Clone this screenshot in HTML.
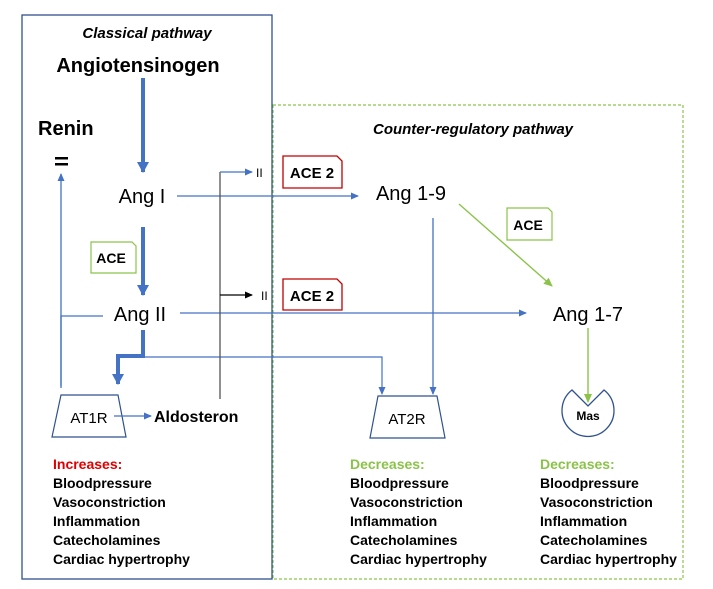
<!DOCTYPE html>
<html><head><style>body{margin:0;background:#fff}svg{display:block}text{font-family:"Liberation Sans",sans-serif}</style></head><body>
<svg width="713" height="589" viewBox="0 0 713 589" xmlns="http://www.w3.org/2000/svg">
<defs>
<marker id="b" markerWidth="8" markerHeight="8" refX="7" refY="4" orient="auto" markerUnits="userSpaceOnUse"><path d="M0,0.5 L8,4 L0,7.5z" fill="#4472c4"/></marker>
<marker id="bt" markerWidth="12" markerHeight="12" refX="10" refY="6" orient="auto" markerUnits="userSpaceOnUse"><path d="M0,0 L11,6 L0,12z" fill="#4472c4"/></marker>
<marker id="k" markerWidth="8" markerHeight="8" refX="7" refY="4" orient="auto" markerUnits="userSpaceOnUse"><path d="M0,0.5 L8,4 L0,7.5z" fill="#000"/></marker>
<marker id="g" markerWidth="9" markerHeight="9" refX="8" refY="4.5" orient="auto" markerUnits="userSpaceOnUse"><path d="M0,0.5 L9,4.5 L0,8.5z" fill="#8bc34a"/></marker>
</defs>
<rect x="273" y="105" width="410" height="474" fill="none" stroke="#8bc34a" stroke-dasharray="3,2" stroke-width="1.2"/>
<rect x="22" y="15" width="250" height="564" fill="none" stroke="#2f528f" stroke-width="1.3"/>
<text x="147" y="38" text-anchor="middle" font-size="15" font-style="italic" font-weight="bold">Classical pathway</text>
<text x="473" y="134" text-anchor="middle" font-size="15" font-style="italic" font-weight="bold">Counter-regulatory pathway</text>
<text x="138" y="72" text-anchor="middle" font-size="20" font-weight="bold">Angiotensinogen</text>
<text x="38" y="135" font-size="20" font-weight="bold">Renin</text>
<rect x="55" y="157" width="13" height="2.5"/><rect x="55" y="163" width="13" height="2.5"/>
<line x1="143" y1="78" x2="143" y2="172" stroke="#4472c4" stroke-width="4" marker-end="url(#bt)"/>
<text x="142" y="203" text-anchor="middle" font-size="20">Ang I</text>
<line x1="177" y1="196" x2="358" y2="196" stroke="#4472c4" stroke-width="1.3" marker-end="url(#b)"/>
<text x="411" y="200" text-anchor="middle" font-size="20">Ang 1-9</text>
<path d="M91,242 H132 L136,246 V273 H91Z" fill="#fff" stroke="#8bc34a" stroke-width="1.2"/>
<text x="111" y="263" text-anchor="middle" font-size="14" font-weight="bold">ACE</text>
<line x1="143" y1="227" x2="143" y2="295" stroke="#4472c4" stroke-width="4" marker-end="url(#bt)"/>
<text x="140" y="321" text-anchor="middle" font-size="20">Ang II</text>
<line x1="180" y1="313" x2="526" y2="313" stroke="#4472c4" stroke-width="1.3" marker-end="url(#b)"/>
<polyline points="103,316 61,316 61,386" fill="none" stroke="#4472c4" stroke-width="1.3"/>
<line x1="61" y1="388" x2="61" y2="174" stroke="#4472c4" stroke-width="1.3" marker-end="url(#b)"/>
<polyline points="143,330 143,356 118,356 118,384" fill="none" stroke="#4472c4" stroke-width="4" marker-end="url(#bt)"/>
<polyline points="143,357 382,357 382,394" fill="none" stroke="#4472c4" stroke-width="1.2" marker-end="url(#b)"/>
<line x1="433" y1="218" x2="433" y2="394" stroke="#4472c4" stroke-width="1.3" marker-end="url(#b)"/>
<line x1="220" y1="172" x2="220" y2="399" stroke="#555" stroke-width="1.3"/>
<line x1="220" y1="172" x2="252" y2="172" stroke="#4472c4" stroke-width="1.3" marker-end="url(#b)"/>
<line x1="220" y1="295" x2="252" y2="295" stroke="#000" stroke-width="1.3" marker-end="url(#k)"/>
<text x="256" y="177" font-size="12">II</text><text x="261" y="300" font-size="12">II</text>
<path d="M283,156 H337 L342,161 V188 H283Z" fill="#fff" stroke="#c00000" stroke-width="1.3"/>
<text x="312" y="178" text-anchor="middle" font-size="15" font-weight="bold">ACE 2</text>
<path d="M283,279 H337 L342,284 V310 H283Z" fill="#fff" stroke="#c00000" stroke-width="1.3"/>
<text x="312" y="301" text-anchor="middle" font-size="15" font-weight="bold">ACE 2</text>
<path d="M61,395 H118 L126,437 H52Z" fill="#fff" stroke="#2f528f" stroke-width="1.2"/>
<text x="89" y="423" text-anchor="middle" font-size="15">AT1R</text>
<line x1="114" y1="416" x2="151" y2="416" stroke="#4472c4" stroke-width="1.3" marker-end="url(#b)"/>
<text x="154" y="422" font-size="16" font-weight="bold">Aldosteron</text>
<path d="M378,396 H437 L445,438 H370Z" fill="#fff" stroke="#2f528f" stroke-width="1.2"/>
<text x="407" y="424" text-anchor="middle" font-size="15">AT2R</text>
<path d="M507,208 H548 L552,212 V240 H507Z" fill="#fff" stroke="#8bc34a" stroke-width="1.2"/>
<text x="528" y="230" text-anchor="middle" font-size="14" font-weight="bold">ACE</text>
<line x1="459" y1="204" x2="552" y2="286" stroke="#8bc34a" stroke-width="1.4" marker-end="url(#g)"/>
<text x="588" y="321" text-anchor="middle" font-size="20">Ang 1-7</text>
<path d="M572,390 L588,406 L604,390 A26,26 0 1 1 572,390Z" fill="#fff" stroke="#2f528f" stroke-width="1.3"/>
<line x1="588" y1="328" x2="588" y2="402" stroke="#8bc34a" stroke-width="1.4" marker-end="url(#g)"/>
<text x="588" y="420" text-anchor="middle" font-size="12" font-weight="bold">Mas</text>
<g font-size="14" font-weight="bold">
<text x="53" y="469" fill="#e00000">Increases:</text>
<text x="53" y="488">Bloodpressure</text><text x="53" y="507">Vasoconstriction</text><text x="53" y="526">Inflammation</text><text x="53" y="545">Catecholamines</text><text x="53" y="564">Cardiac hypertrophy</text>
<text x="350" y="469" fill="#8bc34a">Decreases:</text>
<text x="350" y="488">Bloodpressure</text><text x="350" y="507">Vasoconstriction</text><text x="350" y="526">Inflammation</text><text x="350" y="545">Catecholamines</text><text x="350" y="564">Cardiac hypertrophy</text>
<text x="540" y="469" fill="#8bc34a">Decreases:</text>
<text x="540" y="488">Bloodpressure</text><text x="540" y="507">Vasoconstriction</text><text x="540" y="526">Inflammation</text><text x="540" y="545">Catecholamines</text><text x="540" y="564">Cardiac hypertrophy</text>
</g>
</svg>
</body></html>
